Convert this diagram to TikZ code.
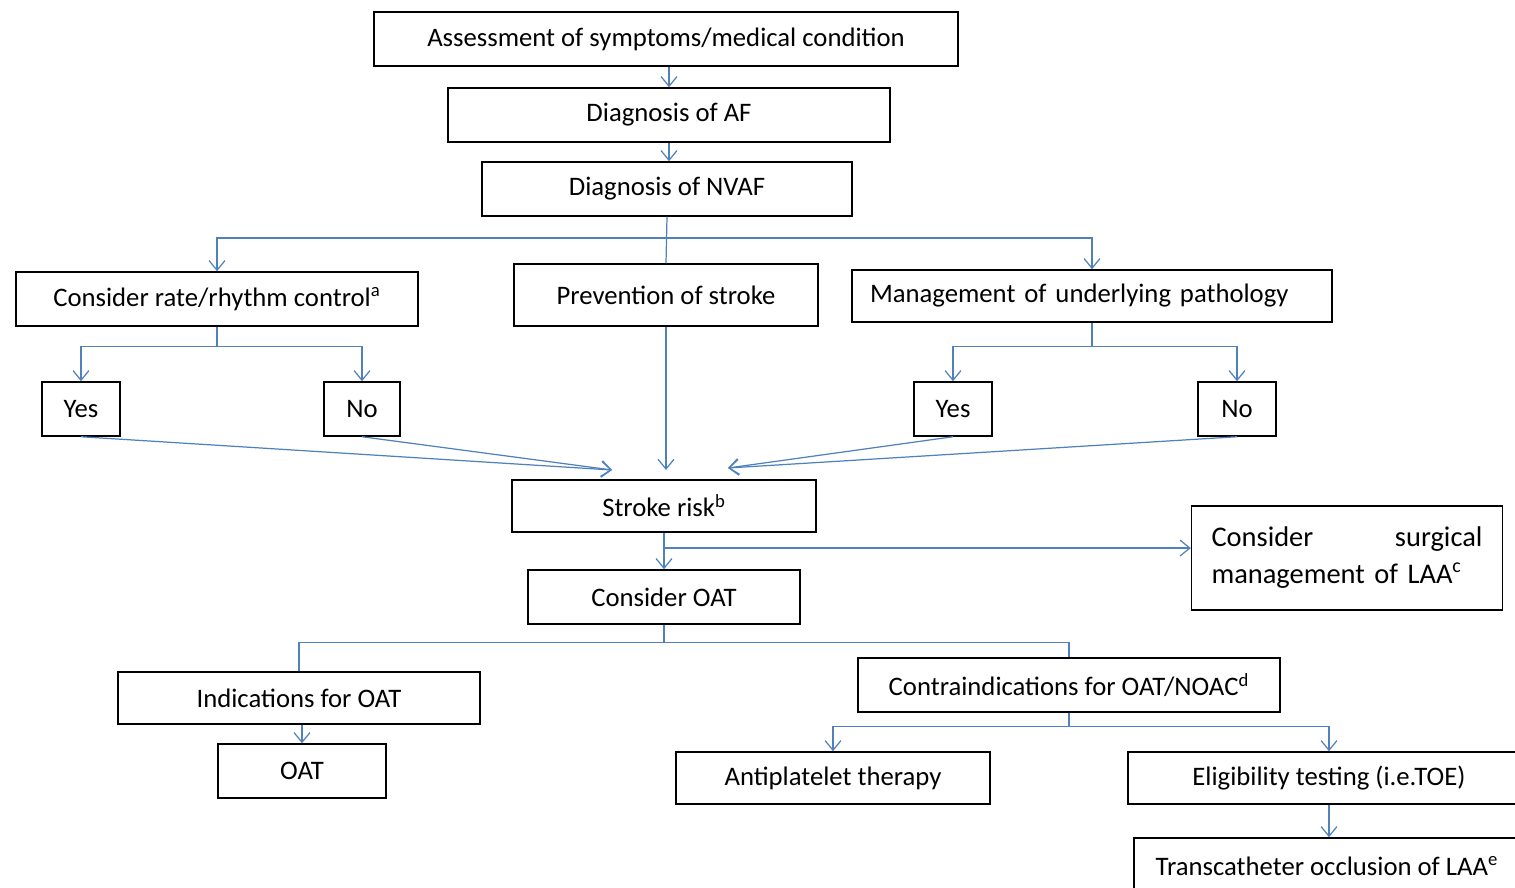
\documentclass[tikz,border=0pt]{standalone}
\usepackage{fontspec}
\setmainfont{Carlito}
\usepackage{xcolor}
\usetikzlibrary{
    arrows.meta,
    positioning,
    calc
}
\definecolor{linkblue}{RGB}{79,129,189}
\newdimen\px \px=0.02cm

\begin{document}
\begin{tikzpicture}[x=0.02cm, y=-0.02cm, >={Straight Barb[length=5.5pt,width=9pt]},
    box/.style={rectangle, draw=black, line width=0.85pt, fill=white, inner sep=0pt,
                text centered, font=\fontsize{15.2}{18}\selectfont},
    link/.style={draw=linkblue, line width=0.7pt}]
    \useasboundingbox (0,0) rectangle (1515,888);
    \clip (0,0) rectangle (1515,888);
    % top chain
    \node[box, minimum width=584\px, minimum height=54\px] (assess) at (666,39) {Assessment of symptoms/medical condition};
    \node[box, minimum width=442\px, minimum height=54\px] (diagAF) at (669,115) {Diagnosis of AF};
    \node[box, minimum width=370\px, minimum height=54\px] (diagNVAF) at (667,189) {Diagnosis of NVAF};
    % three branches
    \node[box, minimum width=402\px, minimum height=54\px] (ratectl) at (217,299) {Consider rate/rhythm control\textsuperscript{a}};
    \node[box, minimum width=304\px, minimum height=62\px] (prevent) at (666,295) {Prevention of stroke};
    \node[box, text width=444\px, inner xsep=18\px, align=left, minimum height=52\px] (manage) at (1092,296) {Management of underlying pathology};
    \node[box, minimum width=78\px, minimum height=54\px] (yesL) at (81,409) {Yes};
    \node[box, minimum width=76\px, minimum height=54\px] (noL) at (362,409) {No};
    \node[box, minimum width=78\px, minimum height=54\px] (yesR) at (953,409) {Yes};
    \node[box, minimum width=78\px, minimum height=54\px] (noR) at (1237,409) {No};
    % stroke risk and OAT
    \node[box, minimum width=304\px, minimum height=52\px] (risk) at (664,506) {Stroke risk\textsuperscript{b}};
    \node[box, text width=271\px, inner xsep=20\px, align=left, minimum height=104\px,
          font=\fontsize{16.2}{21}\selectfont] (surg) at (1347,558) {Consider\hfill surgical\\management of LAA\textsuperscript{c}};
    \node[box, minimum width=272\px, minimum height=54\px] (consOAT) at (664,597) {Consider OAT};
    \node[box, minimum width=362\px, minimum height=52\px] (indic) at (299,698) {Indications for OAT};
    \node[box, minimum width=168\px, minimum height=54\px] (oat) at (302,771) {OAT};
    \node[box, minimum width=422\px, minimum height=54\px] (contra) at (1069,685) {Contraindications for OAT/NOAC\textsuperscript{d}};
    \node[box, minimum width=314\px, minimum height=52\px] (antipl) at (833,778) {Antiplatelet therapy};
    \node[box, minimum width=402\px, minimum height=52\px] (elig) at (1329,778) {Eligibility testing (i.e.TOE)};
    \node[box, minimum width=386\px, minimum height=56\px] (trans) at (1327,866) {Transcatheter occlusion of LAA\textsuperscript{e}};
    % connectors
    \draw[link, ->] (diagAF.north |- assess.south) -- (diagAF.north);
    \draw[link, ->] (diagAF.south) -- (diagNVAF.north -| diagAF.south);
    \draw[link] (diagNVAF.south) -- (prevent.north);
    \coordinate (busA) at (666,238);
    \draw[link, ->] (busA) -| (ratectl.north);
    \draw[link, ->] (busA) -| (manage.north);
    \draw[link] (ratectl.south) -- ++(0,20) coordinate (busB);
    \draw[link, ->] (busB) -| (yesL.north);
    \draw[link, ->] (busB) -| (noL.north);
    \draw[link] (manage.south) -- ++(0,24) coordinate (busC);
    \draw[link, ->] (busC) -| (yesR.north);
    \draw[link, ->] (busC) -| (noR.north);
    \coordinate (riskL) at (612,470);
    \coordinate (riskR) at (728,468);
    \draw[link, ->] (yesL.south) -- (riskL);
    \draw[link, ->] (noL.south) -- (riskL);
    \draw[link, ->] (yesR.south) -- (riskR);
    \draw[link, ->] (noR.south) -- (riskR);
    \draw[link, ->] (prevent.south) -- (prevent.south |- riskL);
    \draw[link, ->] (risk.south) -- (consOAT.north);
    \coordinate (branch) at ($(risk.south)!0.42!(consOAT.north)$);
    \draw[link, ->] (branch) -- (branch -| surg.west);
    \draw[link] (consOAT.south) -- ++(0,18) coordinate (busD);
    \draw[link] (indic.north) |- (busD) -| (contra.north);
    \draw[link, ->] (oat.north |- indic.south) -- (oat.north);
    \draw[link] (contra.south) -- ++(0,14) coordinate (busE);
    \draw[link, ->] (busE) -| (antipl.north);
    \draw[link, ->] (busE) -| (elig.north);
    \draw[link, ->] (elig.south) -- (elig.south |- trans.north);
\end{tikzpicture}
\end{document}
